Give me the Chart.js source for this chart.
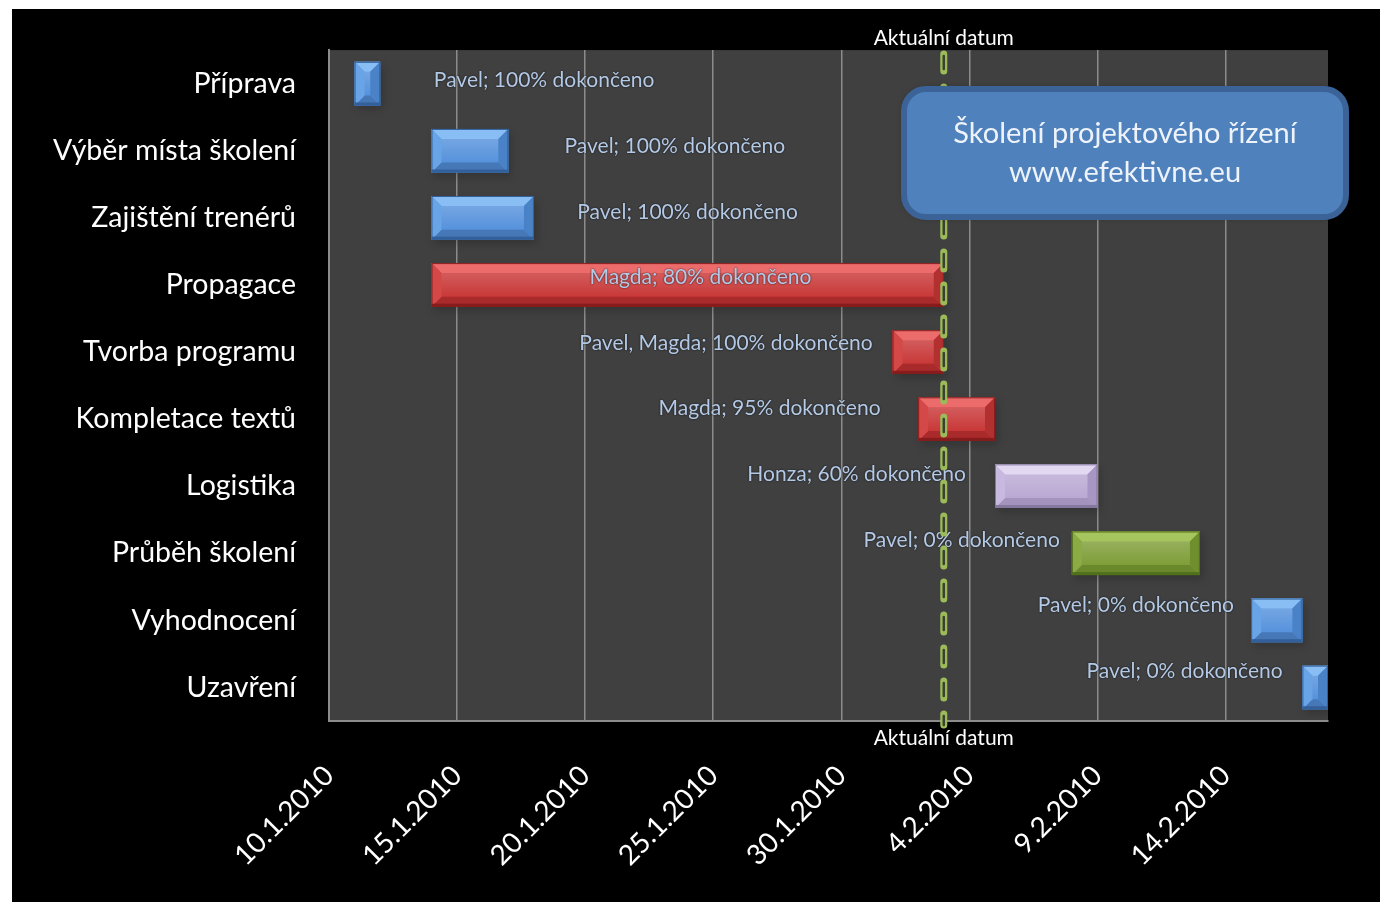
<!DOCTYPE html>
<html>
<head>
<meta charset="utf-8">
<script src="https://cdn.jsdelivr.net/npm/chart.js@4"></script>
<style>
  html, body { margin: 0; padding: 0; background: #fff; }
  #wrap { width: 1380px; height: 902px; position: relative; }
</style>
</head>
<body>
<div id="wrap"><canvas id="gantt" width="1380" height="902"></canvas></div>
<script>
// --- data ---
const tasks = ['Příprava', 'Výběr místa školení', 'Zajištění trenérů', 'Propagace', 'Tvorba programu',
  'Kompletace textů', 'Logistika', 'Průběh školení', 'Vyhodnocení', 'Uzavření'];
const startDates = ['2010-01-11', '2010-01-14', '2010-01-14', '2010-01-14', '2010-02-01',
  '2010-02-02', '2010-02-05', '2010-02-08', '2010-02-15', '2010-02-17'];
const endDates = ['2010-01-12', '2010-01-17', '2010-01-18', '2010-02-03', '2010-02-03',
  '2010-02-05', '2010-02-09', '2010-02-13', '2010-02-17', '2010-02-18'];
const owners = ['Pavel', 'Pavel', 'Pavel', 'Magda', 'Pavel, Magda', 'Magda', 'Honza', 'Pavel', 'Pavel', 'Pavel'];
const percentDone = [100, 100, 100, 80, 100, 95, 60, 0, 0, 0];
const colorGroup = ['blue', 'blue', 'blue', 'red', 'red', 'red', 'lavender', 'green', 'blue', 'blue'];
// day (from axis start) where each text label is centred
const labelAtDay = [8.4, 13.5, 14.0, 14.5, 15.5, 17.2, 20.6, 24.7, 31.5, 33.4];
const tickLabels = ['10.1.2010', '15.1.2010', '20.1.2010', '25.1.2010', '30.1.2010', '4.2.2010', '9.2.2010', '14.2.2010'];
const axisStart = '2010-01-10';
const axisEnd = '2010-02-18';
const currentDate = '2010-02-03';

const FONT = 'Lato';

function dayOf(d) {
  return (Date.parse(d) - Date.parse(axisStart)) / 86400000;
}

const palettes = {
  blue:     { base: '#5692dc', light: '#88bef3', left: '#69a4e7', right: '#4a82c8', bottom: '#4678b8', edge: '#33609a' },
  red:      { base: '#c93838', light: '#ec6c6c', left: '#d54848', right: '#b33030', bottom: '#a82a2a', edge: '#861c1c' },
  lavender: { base: '#baa9d4', light: '#e2d8f1', left: '#c8b9e0', right: '#a795c3', bottom: '#a393bd', edge: '#86789f' },
  green:    { base: '#7f9e38', light: '#a7c55e', left: '#8bab45', right: '#6f8e2d', bottom: '#6a882c', edge: '#52701c' }
};

const bars = startDates.map((s, i) => [dayOf(s), dayOf(endDates[i])]);

function bevelBar(ctx, x0, x1, y0, y1, pal) {
  const w = x1 - x0, h = y1 - y0;
  const b = Math.min(10, w / 2, h / 2);
  ctx.save();
  ctx.fillStyle = pal.base;
  ctx.fillRect(x0, y0, w, h);
  // top face
  ctx.fillStyle = pal.light;
  ctx.beginPath();
  ctx.moveTo(x0, y0); ctx.lineTo(x1, y0); ctx.lineTo(x1 - b, y0 + b); ctx.lineTo(x0 + b, y0 + b);
  ctx.closePath(); ctx.fill();
  // bottom face
  ctx.fillStyle = pal.bottom;
  ctx.beginPath();
  ctx.moveTo(x0, y1); ctx.lineTo(x1, y1); ctx.lineTo(x1 - b, y1 - b); ctx.lineTo(x0 + b, y1 - b);
  ctx.closePath(); ctx.fill();
  // sides
  ctx.fillStyle = pal.left;
  ctx.beginPath();
  ctx.moveTo(x0, y0); ctx.lineTo(x0 + b, y0 + b); ctx.lineTo(x0 + b, y1 - b); ctx.lineTo(x0, y1);
  ctx.closePath(); ctx.fill();
  ctx.fillStyle = pal.right;
  ctx.beginPath();
  ctx.moveTo(x1, y0); ctx.lineTo(x1 - b, y0 + b); ctx.lineTo(x1 - b, y1 - b); ctx.lineTo(x1, y1);
  ctx.closePath(); ctx.fill();
  // soft sheen on the front face
  const g = ctx.createLinearGradient(0, y0 + b, 0, y1 - b);
  g.addColorStop(0, 'rgba(255,255,255,0.18)');
  g.addColorStop(1, 'rgba(255,255,255,0)');
  ctx.fillStyle = g;
  ctx.fillRect(x0 + b, y0 + b, w - 2 * b, h - 2 * b);
  // darker bottom rim
  ctx.fillStyle = pal.edge;
  ctx.fillRect(x0, y1 - 3, w, 3);
  ctx.strokeStyle = pal.edge;
  ctx.lineWidth = 1;
  ctx.strokeRect(x0 + 0.5, y0 + 0.5, w - 1, h - 1);
  ctx.restore();
}

const ganttPlugin = {
  id: 'gantt',
  beforeDraw(chart) {
    const { ctx, chartArea: a } = chart;
    ctx.save();
    ctx.fillStyle = '#fff';
    ctx.fillRect(0, 0, chart.width, chart.height);
    ctx.fillStyle = '#000';
    ctx.fillRect(12, 9, chart.width - 12, chart.height - 9);
    ctx.fillStyle = '#404040';
    ctx.fillRect(a.left, a.top, a.right - a.left, a.bottom - a.top);
    ctx.restore();
  },
  beforeDatasetsDraw(chart) {
    const ctx = chart.ctx;
    ctx.save();
    ctx.shadowColor = 'rgba(0,0,0,0.55)';
    ctx.shadowBlur = 8;
    ctx.shadowOffsetX = 3;
    ctx.shadowOffsetY = 4;
    ctx.fillStyle = 'rgba(0,0,0,0.35)';
    chart.getDatasetMeta(0).data.forEach(el => {
      const x0 = Math.min(el.base, el.x), x1 = Math.max(el.base, el.x);
      ctx.fillRect(x0, el.y - el.height / 2, x1 - x0, el.height);
    });
    ctx.restore();
  },
  afterDatasetsDraw(chart) {
    const { ctx, scales } = chart;
    const meta = chart.getDatasetMeta(0);
    meta.data.forEach((el, i) => {
      const x0 = Math.min(el.base, el.x), x1 = Math.max(el.base, el.x);
      bevelBar(ctx, x0, x1, el.y - el.height / 2, el.y + el.height / 2, palettes[colorGroup[i]]);
    });
    // text labels
    ctx.save();
    ctx.font = '21px ' + FONT;
    ctx.textAlign = 'center';
    ctx.textBaseline = 'middle';
    ctx.fillStyle = '#b3c9e6';
    ctx.shadowColor = 'rgba(0,0,0,0.8)';
    ctx.shadowBlur = 2;
    meta.data.forEach((el, i) => {
      const x = scales.x.getPixelForValue(labelAtDay[i]);
      const y = el.y - 3 - 1.5 * i;
      ctx.fillText(owners[i] + '; ' + percentDone[i] + '% dokončeno', x, y);
    });
    ctx.restore();
  },
  afterDraw(chart) {
    const { ctx, chartArea: a, scales } = chart;
    const x = scales.x.getPixelForValue(dayOf(currentDate));
    ctx.save();
    // dashed "today" line
    ctx.lineCap = 'round';
    ctx.strokeStyle = '#9bbb59';
    ctx.lineWidth = 7;
    ctx.setLineDash([17, 16]);
    ctx.beginPath(); ctx.moveTo(x, a.top + 4); ctx.lineTo(x, a.bottom + 4); ctx.stroke();
    ctx.strokeStyle = '#3c4030';
    ctx.lineWidth = 2.5;
    ctx.setLineDash([13, 20]);
    ctx.lineDashOffset = -2;
    ctx.beginPath(); ctx.moveTo(x, a.top + 4); ctx.lineTo(x, a.bottom + 4); ctx.stroke();
    ctx.setLineDash([]);
    // captions
    ctx.fillStyle = '#fff';
    ctx.font = '21px ' + FONT;
    ctx.textAlign = 'center';
    ctx.textBaseline = 'middle';
    ctx.fillText('Aktuální datum', x, a.top - 12);
    ctx.fillText('Aktuální datum', x, a.bottom + 17);
    // title box
    ctx.shadowColor = 'rgba(0,0,0,0.5)';
    ctx.shadowBlur = 6;
    ctx.beginPath();
    ctx.roundRect(904, 89, 442, 128, 22);
    ctx.fillStyle = '#4f81bd';
    ctx.fill();
    ctx.shadowColor = 'transparent';
    ctx.lineWidth = 6;
    ctx.strokeStyle = '#3b6397';
    ctx.stroke();
    ctx.fillStyle = '#eef3fa';
    ctx.font = '29px ' + FONT;
    ctx.fillText('Školení projektového řízení', 1125, 134);
    ctx.fillText('www.efektivne.eu', 1125, 173);
    ctx.restore();
  }
};

const ctx = document.getElementById('gantt').getContext('2d');
new Chart(ctx, {
  type: 'bar',
  data: {
    labels: tasks,
    datasets: [{
      data: bars,
      backgroundColor: colorGroup.map(c => palettes[c].base),
      borderWidth: 0,
      borderSkipped: false,
      barPercentage: 0.65,
      categoryPercentage: 1
    }]
  },
  options: {
    indexAxis: 'y',
    responsive: false,
    animation: false,
    layout: { padding: { left: 12, top: 48, right: 52, bottom: 0 } },
    plugins: { legend: { display: false }, tooltip: { enabled: false } },
    scales: {
      x: {
        type: 'linear',
        min: 0,
        max: dayOf(axisEnd),
        afterFit: s => { s.height = 181; },
        grid: { color: '#8c8c8c', lineWidth: 1.5, drawTicks: false },
        border: { color: '#8c8c8c', width: 2 },
        ticks: {
          stepSize: 5,
          includeBounds: false,
          autoSkip: false,
          minRotation: 45,
          maxRotation: 45,
          padding: 38,
          color: '#fff',
          font: { family: FONT, size: 28 },
          callback: (v, i) => tickLabels[i]
        }
      },
      y: {
        afterFit: s => { s.width = 317; },
        grid: { display: false, drawTicks: false },
        border: { color: '#8c8c8c', width: 2 },
        ticks: {
          padding: 33,
          color: '#fff',
          font: { family: FONT, size: 28.5 }
        }
      }
    }
  },
  plugins: [ganttPlugin]
});
</script>
</body>
</html>
